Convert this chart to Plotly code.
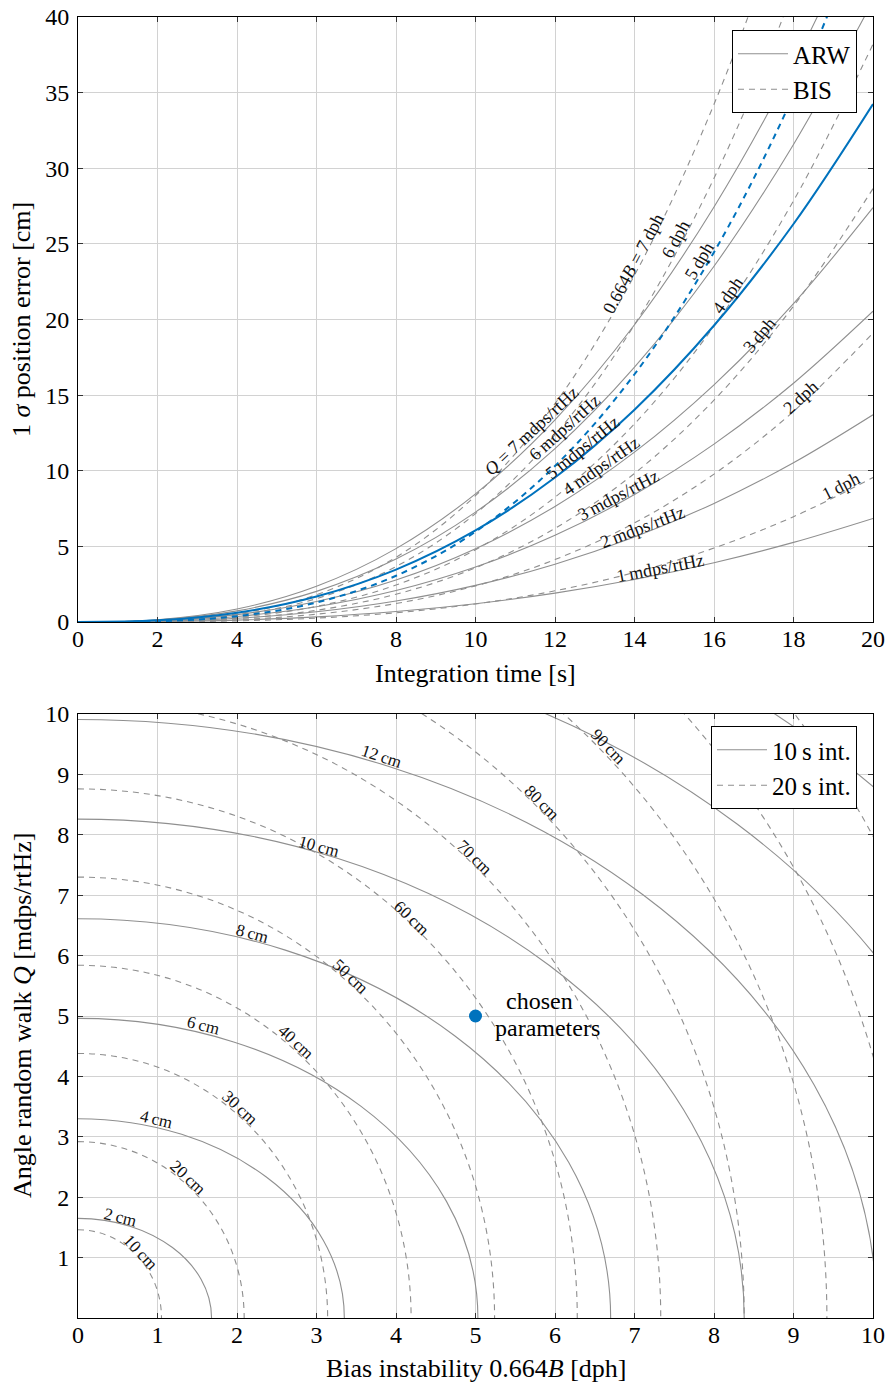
import plotly.graph_objects as go

# ---------------------------------------------------------------------------
# Upper panel: 1-sigma position error versus integration time
# ---------------------------------------------------------------------------
t_s = [0, 2, 4, 6, 8, 10, 12, 14, 16, 18, 20]

# angle random walk contribution [cm], Q = 1 ... 7 mdps/rtHz
arw_q1 = [0, 0.022, 0.123, 0.338, 0.693, 1.211, 1.910, 2.808, 3.920, 5.263, 6.849]
arw_q2 = [0, 0.043, 0.245, 0.675, 1.386, 2.421, 3.820, 5.615, 7.841, 10.525, 13.697]
arw_q3 = [0, 0.065, 0.368, 1.013, 2.079, 3.632, 5.729, 8.423, 11.761, 15.788, 20.546]
arw_q4 = [0, 0.087, 0.490, 1.350, 2.772, 4.843, 7.639, 11.230, 15.682, 21.051, 27.394]
arw_q5 = [0, 0.108, 0.613, 1.688, 3.465, 6.054, 9.549, 14.038, 19.602, 26.314, 34.243]
arw_q6 = [0, 0.130, 0.735, 2.026, 4.158, 7.264, 11.459, 16.846, 23.522, 31.576, 41.091]
arw_q7 = [0, 0.152, 0.858, 2.363, 4.851, 8.475, 13.369, 19.653, 27.443, 36.839, 47.940]

# bias instability contribution [cm], 0.664B = 1 ... 7 dph
bis_b1 = [0, 0.010, 0.076, 0.258, 0.611, 1.194, 2.063, 3.276, 4.890, 6.962, 9.550]
bis_b2 = [0, 0.019, 0.153, 0.516, 1.222, 2.388, 4.126, 6.551, 9.779, 13.924, 19.100]
bis_b3 = [0, 0.029, 0.229, 0.774, 1.834, 3.581, 6.189, 9.827, 14.669, 20.886, 28.651]
bis_b4 = [0, 0.038, 0.306, 1.031, 2.445, 4.775, 8.252, 13.103, 19.559, 27.848, 38.201]
bis_b5 = [0, 0.048, 0.382, 1.289, 3.056, 5.969, 10.315, 16.379, 24.449, 34.811, 47.751]
bis_b6 = [0, 0.057, 0.458, 1.547, 3.667, 7.163, 12.377, 19.654, 29.338, 41.773, 57.301]
bis_b7 = [0, 0.067, 0.535, 1.805, 4.278, 8.356, 14.440, 22.930, 34.228, 48.735, 66.851]

arw_levels = [1, 2, 3, 4, 5, 6, 7]
arw_curves = [arw_q1, arw_q2, arw_q3, arw_q4, arw_q5, arw_q6, arw_q7]
bis_levels = [1, 2, 3, 4, 5, 6, 7]
bis_curves = [bis_b1, bis_b2, bis_b3, bis_b4, bis_b5, bis_b6, bis_b7]
chosen_level = 5

# ---------------------------------------------------------------------------
# Lower panel: iso-error contours in the (bias instability, ARW) plane
# each contour is a quarter ellipse given by its two axis intercepts
# ---------------------------------------------------------------------------
c10_levels = [2, 4, 6, 8, 10, 12, 14, 16]                       # cm, 10 s
c10_q_axis = [1.65, 3.30, 4.96, 6.61, 8.26, 9.91, 11.56, 13.22]  # mdps/rtHz
c10_b_axis = [1.68, 3.35, 5.03, 6.70, 8.38, 10.05, 11.73, 13.40]  # dph

c20_levels = [10, 20, 30, 40, 50, 60, 70, 80, 90, 100, 110]       # cm, 20 s
c20_q_axis = [1.46, 2.92, 4.38, 5.84, 7.30, 8.76, 10.22, 11.68, 13.14, 14.60, 16.06]
c20_b_axis = [1.05, 2.09, 3.14, 4.19, 5.24, 6.28, 7.33, 8.38, 9.42, 10.47, 11.52]

chosen_b = [5]
chosen_q = [5]

# ---------------------------------------------------------------------------
GRAY = "#8f8f8f"
BLUE = "#0072bd"
GRID = "#d2d2d2"
FONT = "Liberation Serif"
DASH = "6px,5px"

fig = go.Figure()

for lvl, ys in zip(arw_levels, arw_curves):
    hl = lvl == chosen_level
    fig.add_trace(go.Scatter(
        x=t_s, y=ys, mode="lines", xaxis="x", yaxis="y",
        line=dict(color=BLUE if hl else GRAY, width=2.0 if hl else 1.1, shape="spline"),
        name="ARW", legend="legend", showlegend=(lvl == 1), hoverinfo="skip"))

for lvl, ys in zip(bis_levels, bis_curves):
    hl = lvl == chosen_level
    fig.add_trace(go.Scatter(
        x=t_s, y=ys, mode="lines", xaxis="x", yaxis="y",
        line=dict(color=BLUE if hl else GRAY, width=2.0 if hl else 1.1,
                  shape="spline", dash=DASH),
        name="BIS", legend="legend", showlegend=(lvl == 1), hoverinfo="skip"))

# bring the highlighted pair on top
fig.data = tuple(sorted(fig.data, key=lambda tr: tr.line.color == BLUE))

K = 0.5523  # cubic Bezier handle length for a quarter ellipse


def quarter_ellipse(q, b):
    return f"M 0,{q} C {K * b},{q} {b},{K * q} {b},0"


for q, b in zip(c10_q_axis, c10_b_axis):
    fig.add_shape(type="path", path=quarter_ellipse(q, b), xref="x2", yref="y2",
                  line=dict(color=GRAY, width=1.1))
for q, b in zip(c20_q_axis, c20_b_axis):
    fig.add_shape(type="path", path=quarter_ellipse(q, b), xref="x2", yref="y2",
                  line=dict(color=GRAY, width=1.1, dash=DASH))

# legend keys for the two contour families
fig.add_trace(go.Scatter(x=[None], y=[None], mode="lines", xaxis="x2", yaxis="y2",
                         line=dict(color=GRAY, width=1.1), name="10\u2009s int.",
                         legend="legend2"))
fig.add_trace(go.Scatter(x=[None], y=[None], mode="lines", xaxis="x2", yaxis="y2",
                         line=dict(color=GRAY, width=1.1, dash=DASH), name="20\u2009s int.",
                         legend="legend2"))

fig.add_trace(go.Scatter(
    x=chosen_b, y=chosen_q, mode="markers", xaxis="x2", yaxis="y2",
    marker=dict(color=BLUE, size=13), showlegend=False, hoverinfo="skip"))

# ---------------------------------------------------------------------------
# curve labels
# ---------------------------------------------------------------------------
ts = "\u2009"
top_labels = [
    (f"<i>Q</i> = 7{ts}mdps/rtHz", 11.40, 12.63, -43),
    (f"6{ts}mdps/rtHz", 12.25, 12.90, -42),
    (f"5{ts}mdps/rtHz", 12.70, 11.57, -39),
    (f"4{ts}mdps/rtHz", 13.16, 10.30, -35),
    (f"3{ts}mdps/rtHz", 13.60, 8.40, -28),
    (f"2{ts}mdps/rtHz", 14.20, 6.30, -21),
    (f"1{ts}mdps/rtHz", 14.65, 3.57, -11),
    (f"0.664<i>B</i> = 7{ts}dph", 13.96, 23.70, -62),
    (f"6{ts}dph", 15.04, 25.30, -62),
    (f"5{ts}dph", 15.62, 23.90, -59),
    (f"4{ts}dph", 16.35, 21.60, -55),
    (f"3{ts}dph", 17.15, 18.95, -50),
    (f"2{ts}dph", 18.19, 14.85, -42),
    (f"1{ts}dph", 19.20, 9.00, -27),
]
bottom_labels = [
    (f"12{ts}cm", 3.82, 9.30, 18),
    (f"10{ts}cm", 3.03, 7.80, 15),
    (f"8{ts}cm", 2.19, 6.37, 15),
    (f"6{ts}cm", 1.58, 4.85, 14),
    (f"4{ts}cm", 0.99, 3.29, 13),
    (f"2{ts}cm", 0.54, 1.67, 14),
    (f"10{ts}cm", 0.79, 1.09, 47),
    (f"20{ts}cm", 1.38, 2.32, 43),
    (f"30{ts}cm", 2.03, 3.48, 43),
    (f"40{ts}cm", 2.73, 4.57, 43),
    (f"50{ts}cm", 3.43, 5.66, 43),
    (f"60{ts}cm", 4.20, 6.62, 44),
    (f"70{ts}cm", 4.99, 7.63, 44),
    (f"80{ts}cm", 5.83, 8.53, 45),
    (f"90{ts}cm", 6.67, 9.47, 46),
]

annotations = []
for text, x, y, ang in top_labels:
    annotations.append(dict(text=text, x=x, y=y, xref="x", yref="y", showarrow=False,
                            textangle=ang, xanchor="center", yanchor="middle",
                            font=dict(size=18, family=FONT, color="#111")))
for text, x, y, ang in bottom_labels:
    annotations.append(dict(text=text, x=x, y=y, xref="x2", yref="y2", showarrow=False,
                            textangle=ang, xanchor="center", yanchor="middle",
                            font=dict(size=17, family=FONT, color="#111")))


def title(text, x_px, y_px, angle=0):
    return dict(text=text, x=x_px / 887, y=1 - y_px / 1385, xref="paper", yref="paper",
                xanchor="center", yanchor="middle", showarrow=False, textangle=angle,
                font=dict(size=26, family=FONT, color="black"))


annotations += [
    dict(text="chosen", x=5.81, y=5.25, xref="x2", yref="y2", showarrow=False,
         xanchor="center", yanchor="middle",
         font=dict(size=24, family=FONT, color="black")),
    dict(text="parameters", x=5.90, y=4.80, xref="x2", yref="y2", showarrow=False,
         xanchor="center", yanchor="middle",
         font=dict(size=24, family=FONT, color="black")),
    title("Integration time [s]", 475.5, 673),
    title("1 <i>σ</i> position error [cm]", 22, 320, -90),
    title("Bias instability 0.664<i>B</i> [dph]", 475.5, 1368),
    title("Angle random walk <i>Q</i> [mdps/rtHz]", 22, 1016, -90),
]

x_dom = [78 / 887, 873 / 887]
axis_common = dict(showgrid=True, gridcolor=GRID, gridwidth=1, showline=True,
                   linecolor="black", linewidth=1, mirror="ticks", ticks="inside",
                   ticklen=5, tickcolor="#333", zeroline=False, automargin=False,
                   tickfont=dict(size=24, family=FONT, color="black"))

legend_common = dict(xanchor="right", yanchor="top", bgcolor="white",
                     bordercolor="black", borderwidth=1, itemwidth=50,
                     font=dict(size=25, family=FONT, color="black"))

fig.update_layout(
    width=887, height=1385,
    margin=dict(l=0, r=0, t=0, b=0, pad=0),
    paper_bgcolor="white", plot_bgcolor="white",
    font=dict(family=FONT, color="black"),
    xaxis=dict(domain=x_dom, anchor="y", range=[0, 20], tick0=0, dtick=2,
               ticklabelstandoff=-5, **axis_common),
    yaxis=dict(domain=[1 - 622 / 1385, 1 - 17 / 1385], anchor="x", range=[0, 40],
               tick0=0, dtick=5, ticklabelstandoff=3, **axis_common),
    xaxis2=dict(domain=x_dom, anchor="y2", range=[0, 10], tick0=0, dtick=1,
                ticklabelstandoff=-5, **axis_common),
    yaxis2=dict(domain=[1 - 1318 / 1385, 1 - 714 / 1385], anchor="x2", range=[0, 10],
                tickvals=[1, 2, 3, 4, 5, 6, 7, 8, 9, 10], ticklabelstandoff=3,
                **axis_common),
    legend=dict(x=857 / 887, y=1 - 30 / 1385, tracegroupgap=0, **legend_common),
    legend2=dict(x=857 / 887, y=1 - 726 / 1385, **legend_common),
    annotations=annotations,
    showlegend=True,
)

fig.write_html("out.html")
